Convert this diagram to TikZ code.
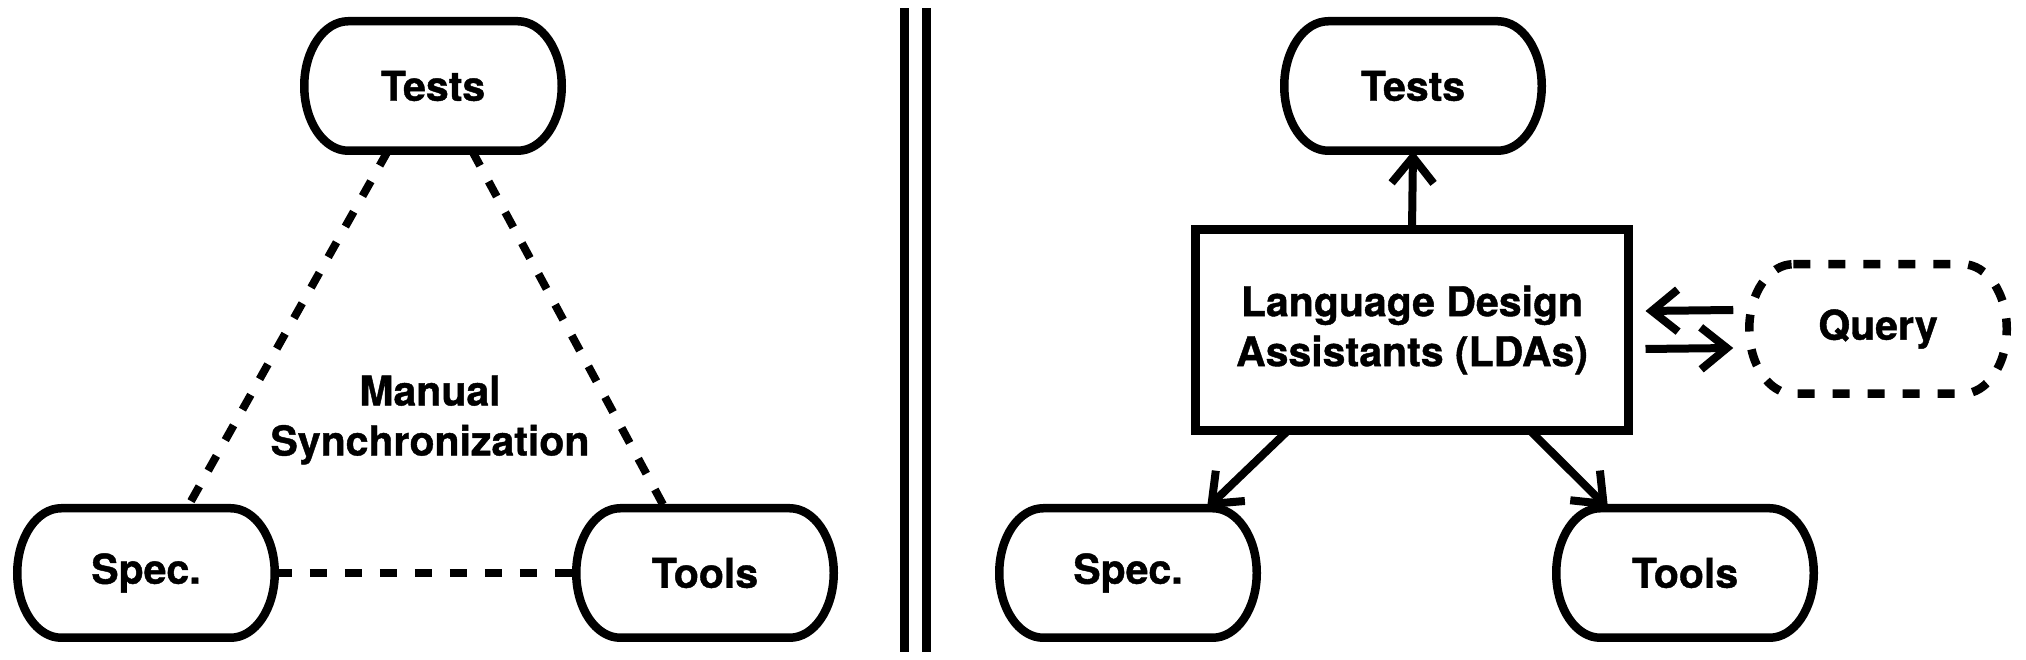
\documentclass[tikz,border=0pt]{standalone}
\usepackage{fontspec}
\setmainfont{TeX Gyre Heros}[BoldFeatures={FakeBold=1}]
\usetikzlibrary{arrows.meta}

\newcommand{\labelfont}{\fontsize{41}{50}\selectfont\bfseries}
% pill outline with elliptic ends round a named node
\newcommand{\pillborder}[2][]{%
  \draw[pillline,#1] ([xshift=44pt]#2.north west) -- ([xshift=-44pt]#2.north east)
    arc[start angle=90, end angle=-90, x radius=44pt, y radius=64.75pt]
    -- ([xshift=44pt]#2.south west)
    arc[start angle=270, end angle=90, x radius=44pt, y radius=64.75pt] -- cycle;}

\begin{document}
\begin{tikzpicture}[x=1pt, y=1pt,
    pill/.style={minimum width=257.5pt, minimum height=129.5pt, inner sep=0pt, outer sep=0pt, font=\labelfont},
    pillline/.style={line width=8.5pt},
    ldabox/.style={draw, line width=9pt, minimum width=433pt, minimum height=201pt,
                   inner sep=0pt, outer sep=0pt, align=center, font=\labelfont},
    syncline/.style={line width=8pt, dash pattern=on 17pt off 18pt},
    flow/.style={line width=8pt, -{Straight Barb[length=26pt, width=42pt, sharp]}},
  ]
    \useasboundingbox (0,0) rectangle (2026,660);

    % left half: manual synchronization
    \node[pill] (ltests) at (433, 574) {Tests};
    \node[pill] (lspec)  at (146, 87)  {Spec.};
    \node[pill] (ltools) at (705, 87)  {Tools};
    \pillborder{ltests}
    \pillborder{lspec}
    \pillborder{ltools}

    \node[font=\labelfont, align=center] (manual) at (430, 240) {Manual\\Synchronization};

    \draw[syncline] ([xshift=-45pt]ltests.south) -- ([xshift=41pt]lspec.north);
    \draw[syncline] ([xshift=39pt]ltests.south)  -- ([xshift=-40pt]ltools.north);
    \draw[syncline] (lspec.east) -- (ltools.west);

    % separator
    \draw[line width=9pt] (904, 8) -- (904, 652);
    \draw[line width=9pt] (926, 8) -- (926, 652);

    % right half: language design assistants
    \node[pill] (rtests) at (1413, 574) {Tests};
    \node[pill] (rspec)  at (1128, 87)  {Spec.};
    \node[pill] (rtools) at (1685, 87)  {Tools};
    \node[pill] (query)  at (1878, 331) {Query};
    \pillborder{rtests}
    \pillborder{rspec}
    \pillborder{rtools}
    \pillborder[dash pattern=on 17pt off 18pt]{query}

    \node[ldabox] (lda) at (1412, 330) {Language Design\\Assistants (LDAs)};

    % draw arrows
    \draw[flow] (lda.north) -- (rtests.south);
    \draw[flow] ([xshift=-124pt]lda.south) -- ([xshift=79pt]rspec.north);
    \draw[flow] ([xshift=118pt]lda.south)  -- ([xshift=-77pt]rtools.north);
    \draw[flow] ([xshift=-16pt, yshift=19pt]query.west) -- ([xshift=17pt, yshift=19pt]lda.east);
    \draw[flow] ([xshift=17pt, yshift=-19pt]lda.east)   -- ([xshift=-16pt, yshift=-19pt]query.west);
\end{tikzpicture}
\end{document}
